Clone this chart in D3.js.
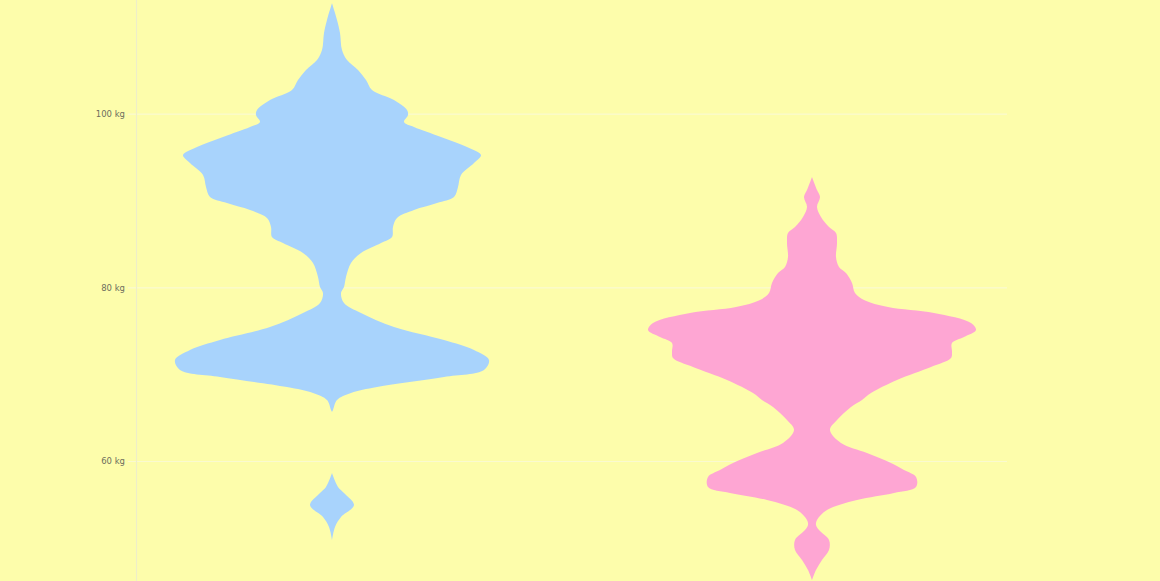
<!DOCTYPE html>
<html>
<head>
<meta charset="utf-8">
<script src="https://cdn.jsdelivr.net/npm/d3@7"></script>
<style>
  html, body { margin: 0; padding: 0; background: #fdfdab; }
  svg { display: block; }
  .tick text { font-family: "DejaVu Sans", sans-serif; font-size: 8.5px; fill: #6e6e5e; }
</style>
</head>
<body>
<svg id="chart" width="1160" height="581"></svg>
<script>
// ---- data ----
const groups = ["Group A", "Group B"];
const groupColors = ["#a8d3fc", "#fea6d3"];
const yTicks = [60, 80, 100];

// weight (kg) sample points and relative density for each violin
const weightA = [112.70, 110.78, 109.28, 107.31, 106.16, 105.01, 103.86, 102.71, 101.56, 100.41,
                 99.84, 99.03, 98.46, 97.31, 96.16, 95.23, 94.31, 92.93, 91.55, 90.40,
                 89.71, 88.90, 87.98, 86.95, 85.80, 85.10, 83.95, 82.80, 81.19, 80.03,
                 79.34, 78.19, 77.04, 75.43, 73.93, 72.78, 71.63, 70.48, 69.68, 68.52,
                 67.83, 67.02, 65.87, 65.64, 58.62, 57.01, 56.32, 54.93, 53.55, 52.40, 50.90];
const densityA = [0, 5, 8, 10, 15, 26, 34, 40, 62, 75,
                  76, 72, 82, 109, 135, 149, 142, 129, 126, 122,
                  105, 82, 65, 61, 60, 49, 29, 19, 14, 12,
                  9, 12, 29, 62, 112, 142, 157, 152, 112, 45,
                  19, 5, 1, 0, 0, 6, 12, 22, 9, 3, 0];

const weightB = [92.70, 91.20, 90.40, 89.25, 88.10, 86.95, 86.25, 85.10, 83.49, 82.34,
                 81.65, 80.50, 79.34, 78.54, 77.73, 77.04, 75.89, 75.08, 74.28, 73.59,
                 72.55, 71.86, 70.83, 69.33, 67.83, 67.02, 66.22, 64.72, 63.57, 62.07,
                 60.92, 59.77, 58.96, 58.16, 57.01, 56.32, 55.51, 54.36, 53.21, 52.63,
                 52.06, 50.91, 49.75, 48.60, 47.45, 46.30];
const densityB = [0, 5, 8, 5, 9, 17, 24, 25, 24, 27,
                  34, 40, 43, 52, 76, 122, 159, 164, 152, 140,
                  140, 139, 119, 85, 59, 50, 39, 25, 18, 29,
                  55, 79, 92, 104, 104, 82, 45, 15, 5, 4,
                  7, 17, 17, 10, 4, 0];

const series = [
  { name: groups[0], weight: weightA, density: densityA, color: groupColors[0] },
  { name: groups[1], weight: weightB, density: densityB, color: groupColors[1] }
];

// ---- layout ----
const W = 1160, H = 581;
const axisX = 136.5, gridLeft = 128, gridRight = 1007;

const svg = d3.select("#chart");
svg.append("rect").attr("width", W).attr("height", H).attr("fill", "#fdfdab");

const y = d3.scaleLinear().domain([60, 100]).range([461, 113.6]);
const x = d3.scalePoint().domain(groups).range([332, 812]);
const maxD = d3.max(series, s => d3.max(s.density));
const w = d3.scaleLinear().domain([0, maxD]).range([0, 164]);

// grid + tick labels
const yAxis = d3.axisLeft(y)
  .tickValues(yTicks)
  .tickFormat(d => d + " kg")
  .tickSize(-(gridRight - gridLeft))
  .tickPadding(3);

const gAxis = svg.append("g")
  .attr("transform", `translate(${gridLeft},0)`)
  .call(yAxis);
gAxis.select(".domain").remove();
gAxis.selectAll(".tick line")
  .attr("stroke", "#fafad0")
  .attr("stroke-width", 1.2);

// vertical axis line
svg.append("line")
  .attr("x1", axisX).attr("x2", axisX)
  .attr("y1", 0).attr("y2", H)
  .attr("stroke", "#eeeec8")
  .attr("stroke-width", 1.2);

// violins: split each profile into pieces where the density is zero on both sides
series.forEach(s => {
  const pts = s.weight.map((kg, i) => ({ kg, d: s.density[i] }));
  const pieces = [];
  let cur = [];
  pts.forEach((p, i) => {
    cur.push(p);
    const next = pts[i + 1];
    if (next && p.d === 0 && next.d === 0) { pieces.push(cur); cur = []; }
  });
  if (cur.length) pieces.push(cur);

  const cx = x(s.name);
  const area = d3.area()
    .y(p => y(p.kg))
    .x0(p => cx - w(p.d))
    .x1(p => cx + w(p.d))
    .curve(d3.curveCatmullRom.alpha(0.5));
  pieces.filter(pc => pc.length > 1).forEach(pc => {
    svg.append("path")
      .datum(pc)
      .attr("d", area)
      .attr("fill", s.color);
  });
});
</script>
</body>
</html>
